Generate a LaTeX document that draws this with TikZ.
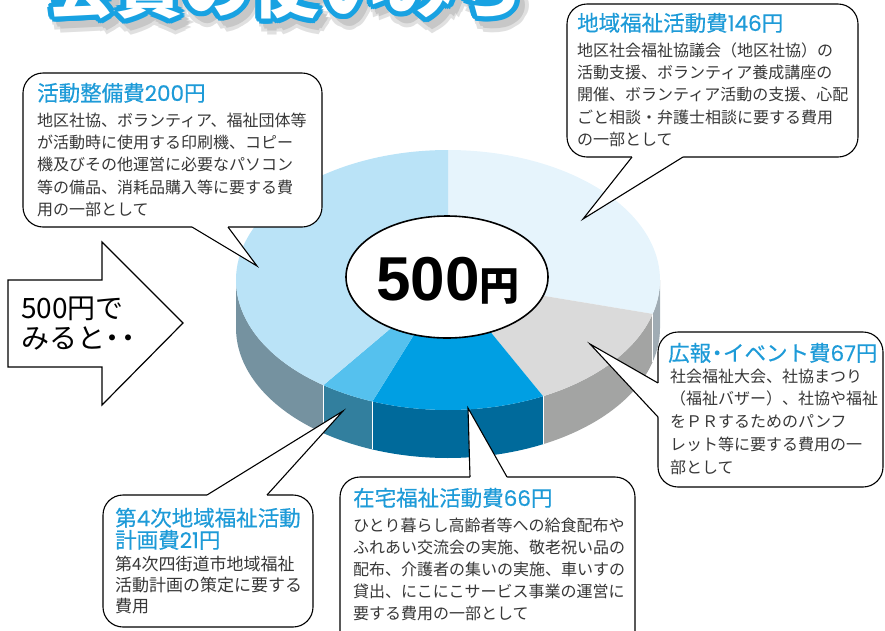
\documentclass[tikz,border=0pt]{standalone}
\usepackage{fontspec}
\usetikzlibrary{calc,shapes.geometric}
\newfontfamily\jp{Noto Sans CJK JP}
\newfontfamily\jpt{Noto Sans CJK JP}[FakeBold=0.5]
\newfontfamily\dgt{Poppins}[FakeBold=0.3]
\newfontfamily\lib{Liberation Sans}
\XeTeXlinebreaklocale "ja"
\XeTeXlinebreakskip=0pt plus 4pt
\newlength\cbw
\newcommand\jline[1]{\hbox to \cbw{#1}}
\newcommand\nardot{\hbox to 0.55em{\hss・\hss}}
\definecolor{tblue}{RGB}{30,155,216}
\definecolor{tgray}{RGB}{55,55,55}
\definecolor{outc}{RGB}{24,162,226}
\definecolor{pale}{RGB}{230,244,252}
\definecolor{vlb}{RGB}{186,227,247}
\definecolor{pgray}{RGB}{218,218,218}
\definecolor{pblue}{RGB}{0,159,227}
\definecolor{plblue}{RGB}{85,193,238}
\definecolor{pside}{RGB}{160,172,180}
\definecolor{gside}{RGB}{163,164,163}
\definecolor{bside}{RGB}{0,106,155}
\definecolor{lside}{RGB}{50,127,158}
\definecolor{vside}{RGB}{117,146,160}
\tikzset{
  box/.style={draw=black, line width=1.1pt, fill=white, rounded corners=20pt, inner sep=0pt},
  ptrline/.style={draw=black, line width=1.1pt, line join=miter},
  ttl/.style={font=\jpt\fontsize{21.5}{22}\selectfont, text=tblue, anchor=base west, inner sep=0pt},
  bdy/.style={font=\jp\fontsize{16}{22}\selectfont, text=tgray, anchor=base west, inner sep=0pt},
  bigt/.style={font=\jp\bfseries\fontsize{68}{68}\selectfont, anchor=base west, inner sep=0pt},
}
\newcommand\pieside[3]{\fill[#3] (#1:212 and 130) arc[start angle=#1,end angle=#2,x radius=212,y radius=130] -- ++(0,-48) arc[start angle=#2,end angle=#1,x radius=212,y radius=130] -- cycle;}
\newcommand\pietop[3]{\fill[#3] (0,0) -- (#1:212 and 130) arc[start angle=#1,end angle=#2,x radius=212,y radius=130] -- cycle;}
\newcommand\ptr[4]{\fill[white] ($(#1)+#4$) -- (#1) -- (#2) -- (#3) -- ($(#3)+#4$) -- cycle; \draw[ptrline] (#1) -- (#2) -- (#3);}
\begin{document}
\begin{tikzpicture}[x=1pt,y=-1pt]
\useasboundingbox (0,0) rectangle (885,630);
\clip (0,0) rectangle (885,630);
% title
\foreach \a [count=\i] in {0,45,...,315}{\node[bigt,text=black!12] (sha\i) at ([shift={(\a:8)}]53,20) {会費の使いみち};}
\foreach \a [count=\i] in {0,45,...,315}{\node[bigt,text=black!22] (shb\i) at ([shift={(\a:4)}]53,20) {会費の使いみち};}
\foreach \a [count=\i] in {0,22.5,...,337.5}{\node[bigt,text=outc] (ol\i) at ([shift={(\a:5.5)}]47,12) {会費の使いみち};}
\node[bigt,text=white] (title) at (47,12) {会費の使いみち};
% pie
\begin{scope}[shift={(448,280)}, yscale=-1]
  \pieside{0}{-15.12}{pside}
  \pieside{-15.12}{-63.36}{gside}
  \pieside{-63.36}{-110.88}{bside}
  \pieside{-110.88}{-126}{lside}
  \pieside{-126}{-180}{vside}
  \foreach \a in {-15.12,-63.36,-110.88,-126}{\draw[white, line width=0.6] (\a:212 and 130) -- ++(0,-48);}
  \pietop{90}{-15.12}{pale}
  \pietop{-15.12}{-63.36}{pgray}
  \pietop{-63.36}{-110.88}{pblue}
  \pietop{-110.88}{-126}{plblue}
  \pietop{-126}{-270}{vlb}
\end{scope}
\node[draw=black, line width=1.6pt, fill=white, ellipse, minimum width=202, minimum height=122, inner sep=0pt] (mid) at (447,277) {};
\node[anchor=base, inner sep=0pt] (val) at (448,300) {{\lib\bfseries\fontsize{62}{62}\selectfont 500}{\jp\bfseries\fontsize{40}{40}\selectfont 円}};
% arrow
\draw[line width=1.2pt, fill=white, line join=miter] (8,280) -- (102,280) -- (102,242) -- (183,323) -- (102,405) -- (102,367) -- (8,367) -- cycle;
\node[anchor=base west, inner sep=0pt, font=\jp\fontsize{28}{30}\selectfont] (arr1) at (21,318) {500円で};
\node[anchor=base west, inner sep=0pt, font=\jp\fontsize{28}{30}\selectfont] (arr2) at (21,348) {みると\nardot\nardot};
% callout 1
\node[box, minimum width=291, minimum height=153] (b1) at (712.5,80.5) {};
\coordinate (b1l) at (632,157); \coordinate (b1r) at (683,157); \coordinate (p1) at (583,219);
\ptr{b1l}{p1}{b1r}{(0,-2)}
\node[ttl] (t1) at (577,31) {地域福祉活動費{\dgt 146}円};
\node[bdy] (t1b) at (577,56) {\cbw=270pt\vtop{\baselineskip=22.4pt
 \jline{地区社会福祉協議会（地区社協）の}
 \jline{活動支援、ボランティア養成講座の}
 \jline{開催、ボランティア活動の支援、心配}
 \jline{ごと相談・弁護士相談に要する費用}
 \hbox{の一部として}}};
% callout 2
\node[box, minimum width=299, minimum height=154] (b2) at (172.5,150) {};
\coordinate (b2l) at (192,227); \coordinate (b2r) at (228,227); \coordinate (p2) at (257,266);
\ptr{b2l}{p2}{b2r}{(0,-2)}
\node[ttl] (t2) at (37,101) {活動整備費{\dgt 200}円};
\node[bdy] (t2b) at (37,126) {\cbw=273pt\vtop{\baselineskip=22.4pt
 \jline{地区社協、ボランティア、福祉団体等}
 \jline{が活動時に使用する印刷機、コピー}
 \jline{機及びその他運営に必要なパソコン}
 \jline{等の備品、消耗品購入等に要する費}
 \hbox{用の一部として}}};
% callout 3
\node[box, minimum width=225, minimum height=155] (b3) at (770.5,409.5) {};
\coordinate (b3t) at (658,383); \coordinate (b3b) at (658,417); \coordinate (p3) at (590,344);
\ptr{b3t}{p3}{b3b}{(2,0)}
\node[ttl] (t3) at (668,361) {広報\nardot イベント費{\dgt 67}円};
\node[bdy] (t3b) at (670,382) {\cbw=210pt\vtop{\baselineskip=22.9pt
 \jline{社会福祉大会、社協まつり}
 \jline{（福祉バザー）、社協や福祉}
 \jline{をＰＲするためのパンフ}
 \jline{レット等に要する費用の一}
 \hbox{部として}}};
% callout 4
\node[box, minimum width=210, minimum height=132] (b4) at (208,561) {};
\coordinate (b4l) at (207,495); \coordinate (b4r) at (267,495); \coordinate (p4) at (343,411);
\ptr{b4l}{p4}{b4r}{(0,2)}
\node[ttl] (t4) at (115,526) {第{\dgt 4}次地域福祉活動};
\node[ttl] (t4a) at (115,548) {計画費{\dgt 21}円};
\node[bdy, font=\jp\fontsize{17}{21}\selectfont] (t4b) at (115,570.5) {\cbw=187pt\vtop{\baselineskip=21pt
 \jline{第4次四街道市地域福祉}
 \jline{活動計画の策定に要する}
 \hbox{費用}}};
% callout 5
\node[box, minimum width=295, minimum height=183] (b5) at (487.5,568.5) {};
\coordinate (b5l) at (470,477); \coordinate (b5r) at (507,477); \coordinate (p5) at (468,408);
\ptr{b5l}{p5}{b5r}{(0,2)}
\node[ttl] (t5) at (353,506) {在宅福祉活動費{\dgt 66}円};
\node[bdy] (t5b) at (353,531) {\cbw=272pt\vtop{\baselineskip=22pt
 \jline{ひとり暮らし高齢者等への給食配布や}
 \jline{ふれあい交流会の実施、敬老祝い品の}
 \jline{配布、介護者の集いの実施、車いすの}
 \jline{貸出、にこにこサービス事業の運営に}
 \hbox{要する費用の一部として}}};
\end{tikzpicture}
\end{document}
